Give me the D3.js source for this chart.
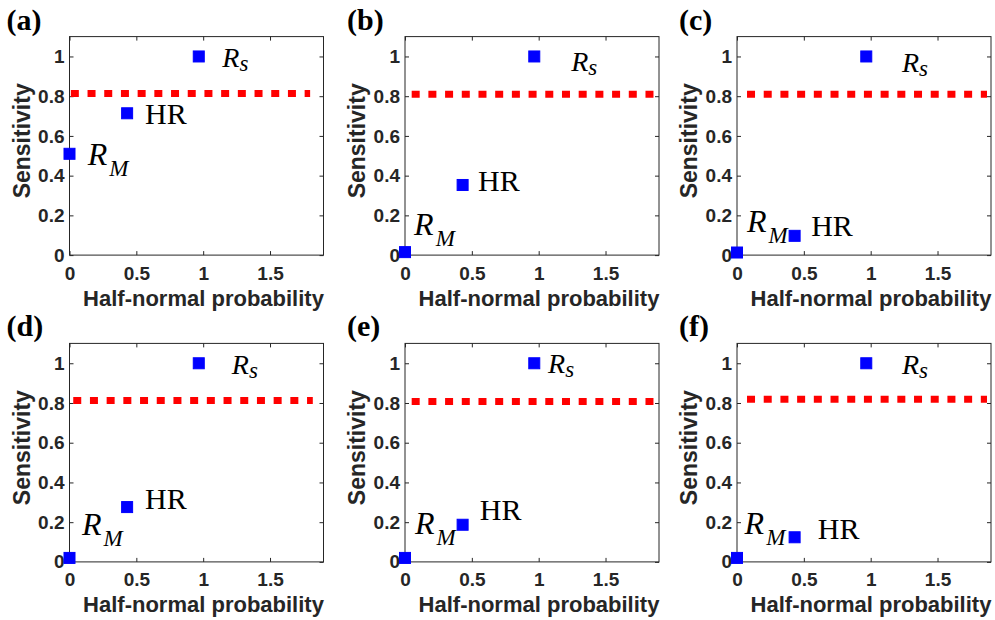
<!DOCTYPE html>
<html>
<head>
<meta charset="utf-8">
<script src="https://cdn.jsdelivr.net/npm/d3@7"></script>
<style>
  body { margin: 0; background: #fff; }
  svg { display: block; }
  .tick text { font-family: "Liberation Sans", Arial, sans-serif; font-weight: bold; font-size: 19px; fill: #262626; }
  .axis-label { font-family: "Liberation Sans", Arial, sans-serif; font-weight: bold; font-size: 22px; fill: #262626; }
  .y-label { font-size: 23px; }
  .panel-tag { font-family: "Liberation Serif", "Times New Roman", serif; font-weight: bold; font-size: 30px; fill: #000; }
  .effect { font-family: "Liberation Serif", "Times New Roman", serif; fill: #000; }
</style>
</head>
<body>
<svg id="chart" width="995" height="620"></svg>
<script>
const PANEL_TAGS = ["(a)", "(b)", "(c)", "(d)", "(e)", "(f)"];
const EFFECTS = ["RM", "HR", "Rs"];
const HALF_NORMAL_X = [0, 0.431, 0.967];
const SENSITIVITY = [
  [0.51, 0.714, 1.0],
  [0.015, 0.353, 1.0],
  [0.013, 0.097, 1.0],
  [0.02, 0.276, 1.0],
  [0.02, 0.187, 1.0],
  [0.02, 0.124, 1.0],
];
const THRESHOLD = [0.813, 0.81, 0.81, 0.812, 0.807, 0.819];
const THRESHOLD_SPAN = [
  [0.01, 1.8],
  [0.05, 1.87],
  [0.075, 1.87],
  [0.028, 1.82],
  [0.05, 1.86],
  [0.075, 1.87],
];
// text anchors in data units: [RM, HR, Rs]
const LABEL_AT = [
  [[0.136, 0.453], [0.565, 0.658], [1.143, 0.949]],
  [[0.068, 0.1], [0.546, 0.324], [1.243, 0.927]],
  [[0.075, 0.117], [0.555, 0.0975], [1.234, 0.923]],
  [[0.094, 0.137], [0.565, 0.268], [1.214, 0.946]],
  [[0.075, 0.142], [0.559, 0.209], [1.07, 0.95]],
  [[0.057, 0.142], [0.604, 0.117], [1.234, 0.946]],
];
const X_TICKS = [0, 0.5, 1, 1.5];
const Y_TICKS = [0, 0.2, 0.4, 0.6, 0.8, 1];
const X_LABEL = "Half-normal probability";
const Y_LABEL = "Sensitivity";

const COL_LEFT = [69.5, 405, 737];
const ROW_TOP = [36.6, 343.4];
const PLOT_W = 254;
const PLOT_H = 218.5;

const svg = d3.select("#chart");

PANEL_TAGS.forEach((tag, i) => drawPanel(i));

function drawPanel(i) {
  const left = COL_LEFT[i % 3];
  const top = ROW_TOP[Math.floor(i / 3)];
  const x = d3.scaleLinear().domain([0, 1.9]).range([0, PLOT_W]);
  const y = d3.scaleLinear().domain([0, 1.1]).range([PLOT_H, 0]);

  const g = svg.append("g").attr("transform", `translate(${left},${top})`);

  g.append("g")
    .attr("transform", `translate(0,${PLOT_H})`)
    .call(d3.axisBottom(x).tickValues(X_TICKS).tickFormat(d3.format("")).tickSize(-4).tickPadding(11))
    .call(styleAxis);
  g.append("g")
    .call(d3.axisLeft(y).tickValues(Y_TICKS).tickFormat(d3.format("")).tickSize(-4).tickPadding(5))
    .call(styleAxis);
  g.append("g")
    .call(d3.axisTop(x).tickValues(X_TICKS).tickFormat("").tickSize(-4))
    .call(styleAxis);
  g.append("g")
    .attr("transform", `translate(${PLOT_W},0)`)
    .call(d3.axisRight(y).tickValues(Y_TICKS).tickFormat("").tickSize(-4))
    .call(styleAxis);

  g.append("rect")
    .attr("width", PLOT_W)
    .attr("height", PLOT_H)
    .attr("fill", "none")
    .attr("stroke", "#262626")
    .attr("stroke-width", 1);

  // dotted threshold line
  g.append("line")
    .attr("x1", x(THRESHOLD_SPAN[i][0]))
    .attr("x2", x(THRESHOLD_SPAN[i][1]))
    .attr("y1", y(THRESHOLD[i]))
    .attr("y2", y(THRESHOLD[i]))
    .attr("stroke", "#ff0000")
    .attr("stroke-width", 7)
    .attr("stroke-dasharray", "8 8.7");

  const points = EFFECTS.map((name, k) => ({ name, hx: HALF_NORMAL_X[k], s: SENSITIVITY[i][k], at: LABEL_AT[i][k] }));

  g.selectAll("rect.marker")
    .data(points)
    .join("rect")
    .attr("class", "marker")
    .attr("x", (d) => x(d.hx) - 5.5)
    .attr("y", (d) => y(d.s) - 5.5)
    .attr("width", 11)
    .attr("height", 11)
    .attr("fill", "#0000ff")
    .attr("stroke", "#0000ff")
    .attr("stroke-width", 1);

  points.forEach((d) => {
    const t = g.append("text")
      .attr("class", "effect")
      .attr("x", x(d.at[0]))
      .attr("y", y(d.at[1]));
    if (d.name === "HR") {
      t.attr("font-size", 30).text("HR");
    } else if (d.name === "RM") {
      t.append("tspan").attr("font-style", "italic").attr("font-size", 32).text("R");
      t.append("tspan").attr("font-style", "italic").attr("font-size", 23).attr("dx", 2).attr("dy", 11).text("M");
    } else {
      t.append("tspan").attr("font-style", "italic").attr("font-size", 28).text("R");
      t.append("tspan").attr("font-style", "italic").attr("font-size", 23).attr("dy", 4).text("s");
    }
  });

  g.append("text")
    .attr("class", "axis-label")
    .attr("x", PLOT_W / 2 + 7)
    .attr("y", PLOT_H + 50.5)
    .attr("text-anchor", "middle")
    .text(X_LABEL);

  g.append("text")
    .attr("class", "axis-label y-label")
    .attr("transform", `translate(-40,${PLOT_H / 2 - 5}) rotate(-90)`)
    .attr("text-anchor", "middle")
    .text(Y_LABEL);

  g.append("text")
    .attr("class", "panel-tag")
    .attr("x", i % 3 === 0 ? -63 : -58)
    .attr("y", -7)
    .text(PANEL_TAGS[i]);
}

function styleAxis(sel) {
  sel.select(".domain").remove();
  sel.selectAll(".tick line").attr("stroke", "#262626");
}
</script>
</body>
</html>
